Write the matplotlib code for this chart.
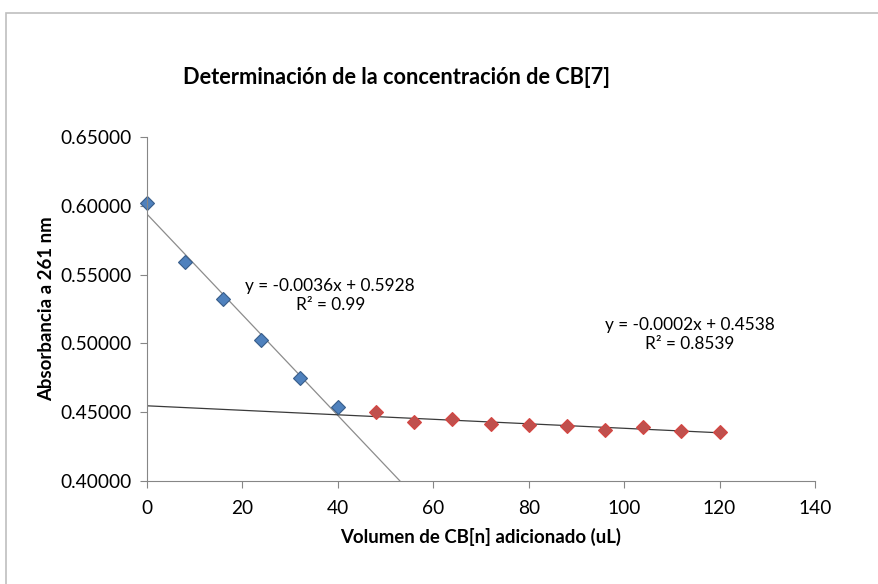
import numpy as np
import matplotlib.pyplot as plt
from matplotlib.patches import Rectangle

plt.rcParams['font.family'] = ['Lato', 'DejaVu Sans']

# primera serie (antes del punto de equivalencia)
vol_1 = [0, 8, 16, 24, 32, 40]
abs_1 = [0.6018, 0.5594, 0.5325, 0.5025, 0.4751, 0.4535]
# segunda serie (despues del punto de equivalencia)
vol_2 = [48, 56, 64, 72, 80, 88, 96, 104, 112, 120]
abs_2 = [0.4499, 0.4431, 0.4448, 0.4417, 0.4409, 0.4400, 0.4371, 0.4395, 0.4363, 0.4358]

eq_1 = 'y = -0.0036x + 0.5928\nR² = 0.99'
eq_2 = 'y = -0.0002x + 0.4538\nR² = 0.8539'

x_ticks = [0, 20, 40, 60, 80, 100, 120, 140]
y_ticks = [0.40, 0.45, 0.50, 0.55, 0.60, 0.65]

fig = plt.figure(figsize=(8.79, 5.84), dpi=100)
ax = fig.add_axes([0.1672, 0.1764, 0.76, 0.589])

# marco del grafico
fig.patches.append(Rectangle((6 / 879, -0.1), 1.2, 1 - 13 / 584 + 0.1,
                             transform=fig.transFigure, fill=False,
                             edgecolor='#BFBFBF', lw=1.2))

# lineas de tendencia
p1 = np.polyfit(vol_1, abs_1, 1)
p2 = np.polyfit(vol_2, abs_2, 1)
xx1 = np.array([0, 60])
xx2 = np.array([0, 120])
ax.plot(xx1, np.polyval(p1, xx1), color='#8C8C8C', lw=0.9)
ax.plot(xx2, np.polyval(p2, xx2), color='#3A3A3A', lw=0.9)

ax.plot(vol_1, abs_1, 'D', ms=7.5, color='#4F81BD', mec='#385D8A', mew=0.8, clip_on=False)
ax.plot(vol_2, abs_2, 'D', ms=7.5, color='#C0504D', mec='#D64541', mew=0.8, clip_on=False)

ax.text(38.4, 0.5348, eq_1, ha='center', va='center', fontsize=12.4, linespacing=1.25)
ax.text(113.8, 0.5065, eq_2, ha='center', va='center', fontsize=12.4, linespacing=1.25)

ax.set_xlim(0, 140)
ax.set_ylim(0.40, 0.65)
ax.set_xticks(x_ticks)
ax.set_yticks(y_ticks)
ax.set_yticklabels([f'{v:.5f}' for v in y_ticks])
ax.tick_params(colors='#868686', labelcolor='black', labelsize=13.8, length=5, width=0.8)
ax.tick_params(axis='x', pad=9)
ax.tick_params(axis='y', pad=6)
for s in ['top', 'right']:
    ax.spines[s].set_visible(False)
for s in ['left', 'bottom']:
    ax.spines[s].set_color('#868686')
    ax.spines[s].set_linewidth(0.8)

fig.text(397 / 879, 1 - 77 / 584, 'Determinación de la concentración de CB[7]',
         ha='center', va='center', fontsize=15.7, fontweight='bold')
fig.text(481 / 879, 1 - 537 / 584, 'Volumen de CB[n] adicionado (uL)',
         ha='center', va='center', fontsize=13.4, fontweight='bold')
fig.text(47 / 879, 1 - 309 / 584, 'Absorbancia a 261 nm', rotation=90,
         ha='center', va='center', fontsize=13.4, fontweight='bold')

fig.savefig('out.png', dpi=100)
